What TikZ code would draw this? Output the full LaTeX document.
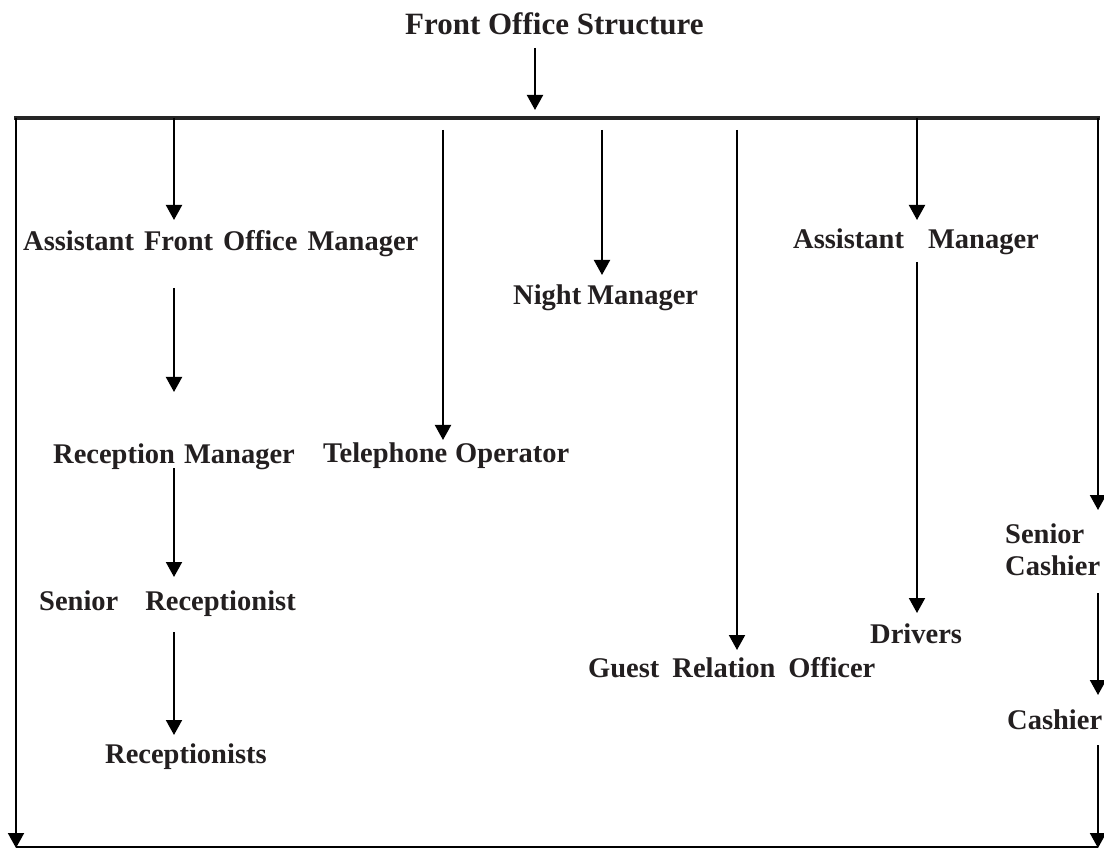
\documentclass[tikz,border=0pt]{standalone}
\usepackage{fontspec}
\setmainfont{Liberation Serif}
\usetikzlibrary{arrows.meta}
\definecolor{ink}{RGB}{35,31,32}
\begin{document}
\begin{tikzpicture}[x=1pt,y=-1pt,
  lbl/.style={anchor=base west, inner sep=0pt, text=ink,
    font=\fontsize{28.5}{32}\selectfont\bfseries},
  ttl/.style={lbl, font=\fontsize{31}{36}\selectfont\bfseries},
  conn/.style={line width=2pt, -{Triangle[length=15pt,width=16pt]}},
  bar/.style={line width=4pt, draw=black!85},
  base line/.style={line width=1.5pt}]
\useasboundingbox (0,0) rectangle (1104,850);

% ---- titles of the posts
\node[ttl] (title) at (405,35) {Front Office Structure};
\node[lbl] (afom) at (23,251) {Assistant\hspace{10pt}Front\hspace{10pt}Office\hspace{10pt}Manager};
\node[lbl] (night) at (513,305) {Night\hspace{6pt}Manager};
\node[lbl] (tel) at (323,462) {Telephone\hspace{8pt}Operator};
\node[lbl] (asstm) at (793,249) {Assistant\hspace{24pt}Manager};
\node[lbl] (recm) at (53,464) {Reception\hspace{9pt}Manager};
\node[lbl] (srrec) at (39,610) {Senior\hspace{27pt}Receptionist};
\node[lbl] (rec) at (105,763) {Receptionists};
\node[lbl] (gro) at (588,677) {Guest\hspace{13pt}Relation\hspace{13pt}Officer};
\node[lbl] (drv) at (870,643) {Drivers};
\node[lbl, align=left] (srcash) at (1005,575) {Senior\\Cashier};
\node[lbl] (cash) at (1007,729) {Cashier};

% ---- frame: top bar, side rails and bottom rule
\coordinate (barL) at (14,118);
\coordinate (barR) at (1100,118);
\coordinate (railL) at (16,118);
\coordinate (railLend) at (16,848);
\coordinate (railR) at (1098,118);
\coordinate (botL) at (16,847);
\coordinate (botR) at (1098,847);
\draw[bar] (barL) -- (barR);
\draw[base line] (botL) -- (botR);
\draw[conn] (railL) -- (railLend);

% ---- title into the bar
\coordinate (t0) at (535,48);
\coordinate (t1) at (535,110);
\draw[conn] (t0) -- (t1);

% ---- left branch
\coordinate (a0) at (174,118);  \coordinate (a1) at (174,220);
\coordinate (a2) at (174,288);  \coordinate (a3) at (174,392);
\coordinate (a4) at (174,468);  \coordinate (a5) at (174,577);
\coordinate (a6) at (174,632);  \coordinate (a7) at (174,735);
\draw[conn] (a0) -- (a1);
\draw[conn] (a2) -- (a3);
\draw[conn] (a4) -- (a5);
\draw[conn] (a6) -- (a7);

% ---- drops hanging below the bar
\coordinate (b0) at (443,130);  \coordinate (b1) at (443,440);
\coordinate (c0) at (602,130);  \coordinate (c1) at (602,275);
\coordinate (d0) at (737,130);  \coordinate (d1) at (737,650);
\draw[conn] (b0) -- (b1);
\draw[conn] (c0) -- (c1);
\draw[conn] (d0) -- (d1);

% ---- assistant manager branch
\coordinate (e0) at (917,118);  \coordinate (e1) at (917,220);
\coordinate (e2) at (917,262);  \coordinate (e3) at (917,613);
\draw[conn] (e0) -- (e1);
\draw[conn] (e2) -- (e3);

% ---- right rail through the cashiers
\coordinate (r1) at (1098,510);
\coordinate (r2) at (1098,593);  \coordinate (r3) at (1098,695);
\coordinate (r4) at (1098,745);  \coordinate (r5) at (1098,848);
\draw[conn] (railR) -- (r1);
\draw[conn] (r2) -- (r3);
\draw[conn] (r4) -- (r5);
\end{tikzpicture}
\end{document}
